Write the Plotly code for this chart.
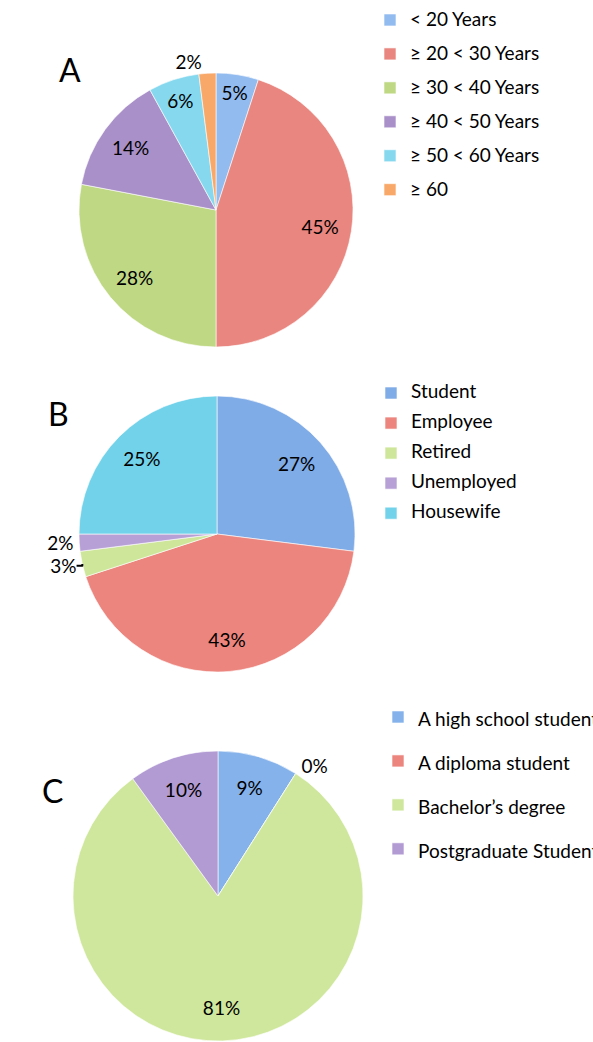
import plotly.graph_objects as go

# ---------------- data ----------------
labels_A = ["< 20 Years", "≥ 20 < 30 Years", "≥ 30 < 40 Years", "≥ 40 < 50 Years", "≥ 50 < 60 Years", "≥ 60"]
values_A = [5, 45, 28, 14, 6, 2]
colors_A = ["#92bbef", "#e8867f", "#bfd884", "#a990c8", "#86d8ee", "#f8a868"]

labels_B = ["Student", "Employee", "Retired", "Unemployed", "Housewife"]
values_B = [27, 43, 3, 2, 25]
colors_B = ["#7fabe6", "#ec857e", "#cde69a", "#b7a0d6", "#72d2ea"]

labels_C = ["A high school student", "A diploma student", "Bachelor’s degree", "Postgraduate Student"]
values_C = [9, 0, 81, 10]
colors_C = ["#85b2ea", "#ec857e", "#cfe79c", "#b29bd3"]

panel_letters = ["A", "B", "C"]

W, H = 593, 1042
FONT = "Lato"
TXT = 19
LEG = 19


def disp(lbl, px):
    s = lbl.replace("<", "&lt;")
    return f'<span style="font-size:{px}px;baseline-shift:3px">{s}</span>'


def dom(cx, cy, r):
    return dict(x=[(cx - r) / W, (cx + r) / W], y=[(H - cy - r) / H, (H - cy + r) / H])


fig = go.Figure()

specs = [
    (labels_A, values_A, colors_A, dom(216, 210, 137), "legend"),
    (labels_B, values_B, colors_B, dom(217, 534, 138), "legend2"),
    (labels_C, values_C, colors_C, dom(218, 896, 145), "legend3"),
]

tf = dict(family=FONT, size=TXT, color="black")

# main pies: colours, legend, outside labels for the thin slices
for labels, values, colors, d, lg in specs:
    fig.add_trace(go.Pie(
        labels=[disp(l, LEG) for l in labels],
        values=values,
        sort=False,
        direction="clockwise",
        rotation=0,
        domain=d,
        marker=dict(colors=colors, line=dict(color="white", width=0.6)),
        texttemplate="%{value}%",
        textposition=["outside" if v < 4 else "none" for v in values],
        textfont=tf, outsidetextfont=tf,
        legend=lg,
        showlegend=True,
        hoverinfo="label+value",
    ))

# transparent ring overlays that carry the inside labels further out
for labels, values, colors, d, lg in specs:
    fig.add_trace(go.Pie(
        labels=[disp(l, LEG) for l in labels],
        values=values,
        sort=False,
        direction="clockwise",
        rotation=0,
        domain=d,
        hole=0.54,
        marker=dict(colors=["rgba(0,0,0,0)"] * len(values), line=dict(width=0)),
        texttemplate="%{value}%",
        textposition=["none" if v < 4 else "inside" for v in values],
        insidetextorientation="horizontal",
        textfont=tf, insidetextfont=tf,
        legend=lg,
        showlegend=False,
        hoverinfo="skip",
    ))

common_leg = dict(xanchor="left", yanchor="top", bgcolor="rgba(0,0,0,0)",
                  borderwidth=0, itemclick=False, itemdoubleclick=False,
                  tracegroupgap=0)

ann_font = dict(family=FONT, size=32, color="black")
fig.update_layout(
    width=W, height=H,
    margin=dict(l=0, r=0, t=0, b=0, autoexpand=False),
    paper_bgcolor="white",
    font=dict(family=FONT, color="black"),
    legend=dict(x=370 / W, y=1 + 2 / H, font=dict(family=FONT, size=23.8), **common_leg),
    legend2=dict(x=371 / W, y=1 - 373 / H, font=dict(family=FONT, size=20.8), **common_leg),
    legend3=dict(x=378 / W, y=1 - 690 / H, font=dict(family=FONT, size=31.5), **common_leg),
    annotations=[
        dict(text=panel_letters[0], x=70 / W, y=1 - 70 / H, xref="paper", yref="paper",
             xanchor="center", yanchor="middle", showarrow=False, font=ann_font),
        dict(text=panel_letters[1], x=58 / W, y=1 - 414 / H, xref="paper", yref="paper",
             xanchor="center", yanchor="middle", showarrow=False, font=ann_font),
        dict(text=panel_letters[2], x=52 / W, y=1 - 790 / H, xref="paper", yref="paper",
             xanchor="center", yanchor="middle", showarrow=False, font=ann_font),
    ],
)

fig.write_html("out.html", config={"displayModeBar": False},
               post_script="document.body.style.margin='0';")
